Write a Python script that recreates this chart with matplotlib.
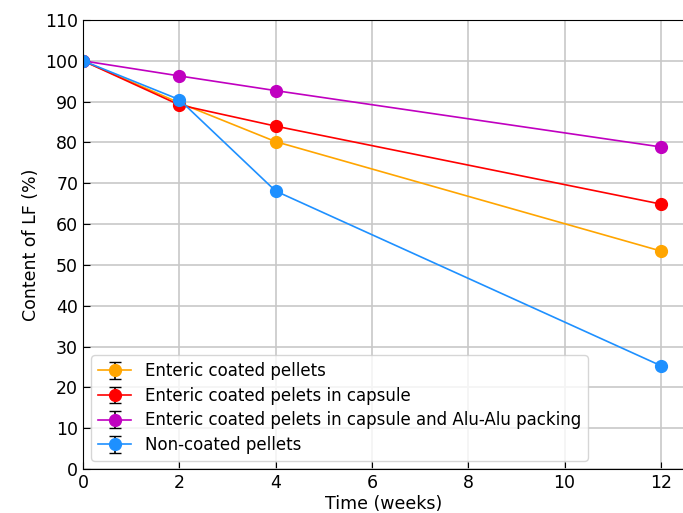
import numpy as np
import matplotlib.pyplot as plt

plt.rcParams["font.size"] = 12.5

# data
weeks = [0, 2, 4, 12]
enteric = [100, 89.7, 80.2, 53.4]
enteric_capsule = [100, 89.2, 84.0, 64.9]
enteric_alu = [100, 96.3, 92.7, 78.9]
non_coated = [100, 90.5, 68.1, 25.3]
labels = [
    "Enteric coated pellets",
    "Enteric coated pelets in capsule",
    "Enteric coated pelets in capsule and Alu-Alu packing",
    "Non-coated pellets",
]
colors = ["orange", "red", "#C000C0", "dodgerblue"]
series = [enteric, enteric_capsule, enteric_alu, non_coated]

fig = plt.figure(figsize=(6.83, 5.13), dpi=100)
ax = fig.add_axes([83 / 683, 1 - 469 / 513, 602 / 683, 449 / 513])

for vals, lab, col in zip(series, labels, colors):
    ax.errorbar(weeks, vals, yerr=np.zeros(len(vals)), color=col, ecolor="black",
                capsize=4, marker="o", markersize=8.5, linewidth=1.2, label=lab)

ax.set_xlim(0, 12.5)
ax.set_ylim(0, 110)
ax.set_xticks([0, 2, 4, 6, 8, 10, 12])
ax.set_yticks(np.arange(0, 111, 10))
ax.grid(True, color="#c8c8c8", linewidth=1.2)
ax.set_axisbelow(True)
ax.tick_params(direction="in", length=5)
ax.spines["right"].set_visible(False)
ax.set_xlabel("Time (weeks)", labelpad=2)
ax.set_ylabel("Content of LF (%)")
ax.legend(loc="lower left", fontsize=12, labelspacing=0.4, borderaxespad=0.5)

fig.savefig("out.png", dpi=100)
